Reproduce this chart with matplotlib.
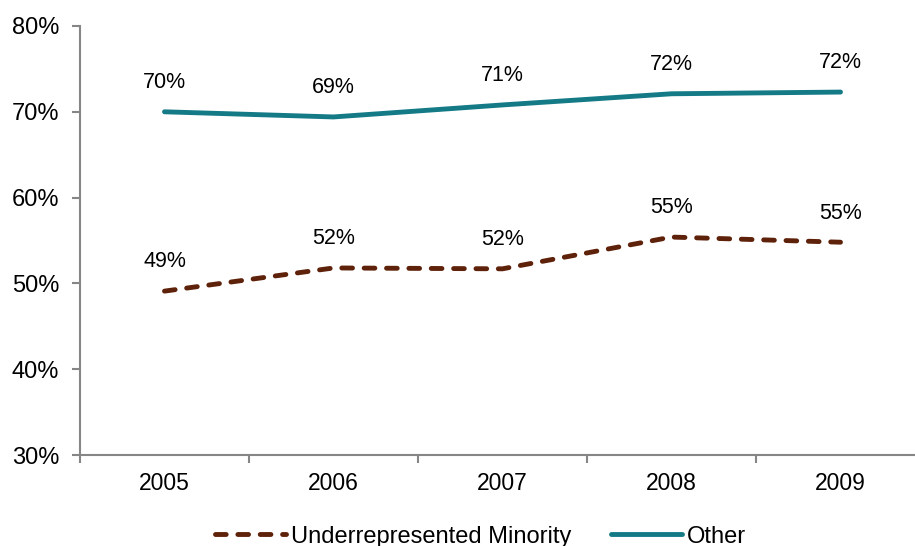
import matplotlib.pyplot as plt
from matplotlib.ticker import FixedLocator, FuncFormatter

plt.rcParams["font.family"] = ["Liberation Sans", "DejaVu Sans"]

years = ["2005", "2006", "2007", "2008", "2009"]
urm = [49.1, 51.8, 51.7, 55.4, 54.8]
other = [70.0, 69.4, 70.8, 72.1, 72.3]
urm_labels = ["49%", "52%", "52%", "55%", "55%"]
other_labels = ["70%", "69%", "71%", "72%", "72%"]

brown = "#5E2109"
teal = "#137A86"
gray = "#868686"

fig = plt.figure(figsize=(9.15, 5.46), dpi=100)
ax = fig.add_axes([80 / 915, (546 - 455) / 546, 845 / 915, 429 / 546])

x = list(range(len(years)))
ax.plot(x, urm, color=brown, lw=3.5, linestyle=(0, (2.2, 2.4)),
        dash_capstyle="round", label="Underrepresented Minority")
ax.plot(x, other, color=teal, lw=3.5, solid_capstyle="round", label="Other")

for xi, v, t in zip(x, urm, urm_labels):
    ax.annotate(t, (xi, v), xytext=(0, 21), textcoords="offset points",
                ha="center", va="center", fontsize=15.5)
for xi, v, t in zip(x, other, other_labels):
    ax.annotate(t, (xi, v), xytext=(0, 21), textcoords="offset points",
                ha="center", va="center", fontsize=15.5)

ax.set_xlim(-0.5, 4.5)
ax.set_ylim(30, 80)
ax.set_yticks(range(30, 81, 10))
ax.yaxis.set_major_formatter(FuncFormatter(lambda v, p: f"{int(v)}%"))
ax.set_xticks(x)
ax.set_xticklabels(years)
ax.xaxis.set_minor_locator(FixedLocator([-0.5, 0.5, 1.5, 2.5, 3.5, 4.5]))

for s in ["top", "right"]:
    ax.spines[s].set_visible(False)
for s in ["left", "bottom"]:
    ax.spines[s].set_color(gray)
    ax.spines[s].set_linewidth(1.5)

ax.tick_params(axis="y", which="major", length=6, width=1.5, color=gray,
               labelsize=17, pad=9)
ax.tick_params(axis="x", which="major", length=0, labelsize=16.5, pad=12)
ax.tick_params(axis="x", which="minor", length=6, width=1.5, color=gray)

fig.legend(loc="lower center", bbox_to_anchor=(0.525, -0.042), ncol=2,
           frameon=False, fontsize=17, handlelength=3, handletextpad=0.2,
           columnspacing=1.7)

fig.savefig("out.png", dpi=100)
